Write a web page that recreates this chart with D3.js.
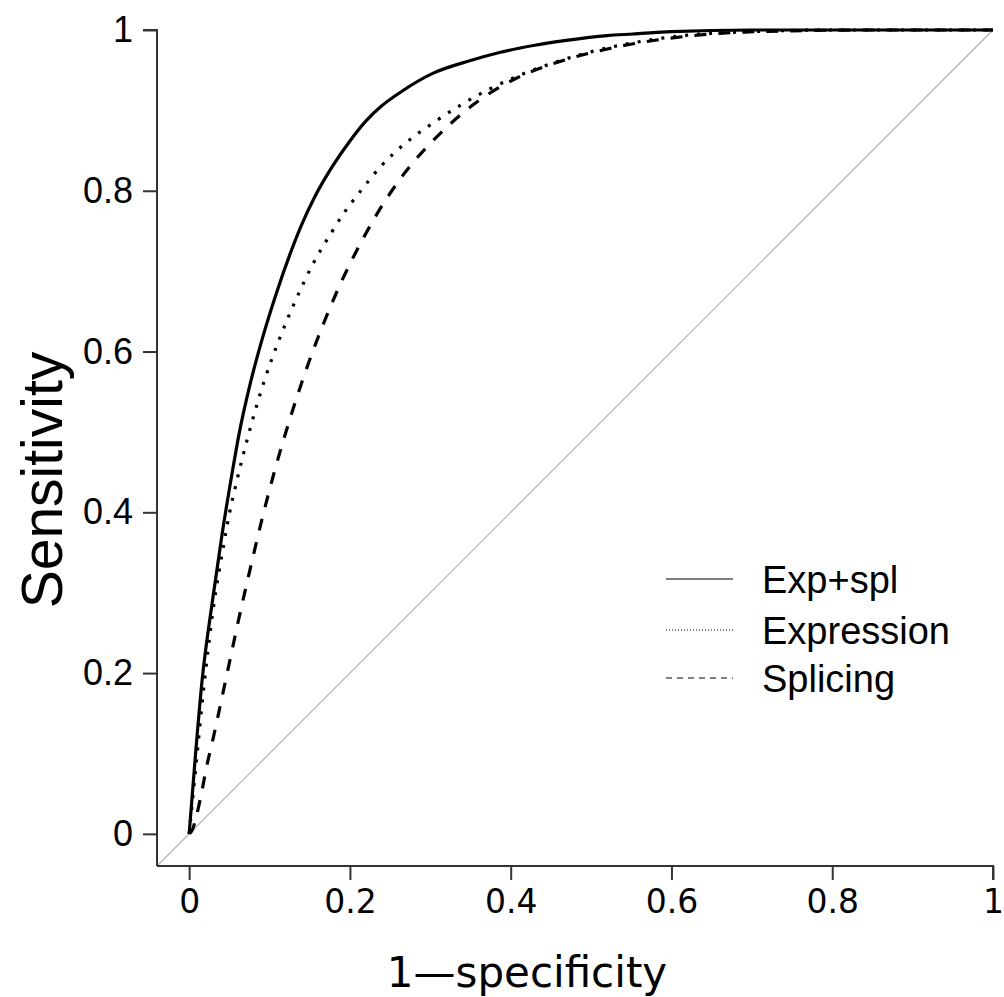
<!DOCTYPE html>
<html><head><meta charset="utf-8">
<script src="https://cdn.jsdelivr.net/npm/d3@7"></script>
<style>body{margin:0;background:#fff}</style>
</head><body>
<svg id="chart" width="1004" height="997"></svg>
<script>
const xTicks = [0, 0.2, 0.4, 0.6, 0.8, 1];
const yTicks = [0, 0.2, 0.4, 0.6, 0.8, 1];
const seriesNames = ["Exp+spl", "Expression", "Splicing"];

const expSplX = [0, 0.008, 0.016, 0.029, 0.041, 0.054, 0.062, 0.075, 0.091, 0.108, 0.125, 0.14, 0.156, 0.178, 0.2, 0.22, 0.24, 0.262, 0.303, 0.35, 0.386, 0.43, 0.469, 0.52, 0.552, 0.6, 0.7, 0.8, 0.9, 1];
const expSplY = [0, 0.1, 0.19, 0.29, 0.373, 0.452, 0.497, 0.556, 0.616, 0.671, 0.72, 0.758, 0.792, 0.83, 0.862, 0.887, 0.906, 0.922, 0.946, 0.962, 0.972, 0.981, 0.987, 0.993, 0.995, 0.998, 1, 1, 1, 1];

const expressionX = [0, 0.008, 0.018, 0.03, 0.043, 0.05, 0.06, 0.071, 0.093, 0.112, 0.133, 0.153, 0.177, 0.193, 0.212, 0.24, 0.27, 0.303, 0.34, 0.407, 0.45, 0.489, 0.552, 0.614, 0.7, 0.8, 0.9, 1];
const expressionY = [0, 0.08, 0.18, 0.28, 0.36, 0.398, 0.442, 0.486, 0.562, 0.615, 0.665, 0.707, 0.748, 0.773, 0.798, 0.832, 0.86, 0.884, 0.908, 0.942, 0.958, 0.97, 0.984, 0.993, 0.998, 1, 1, 1];

const splicingX = [0, 0.004, 0.009, 0.016, 0.022, 0.029, 0.036, 0.049, 0.061, 0.076, 0.091, 0.107, 0.125, 0.143, 0.166, 0.189, 0.215, 0.233, 0.268, 0.308, 0.352, 0.407, 0.465, 0.523, 0.585, 0.65, 0.75, 0.85, 1];
const splicingY = [0, 0.005, 0.022, 0.054, 0.085, 0.115, 0.147, 0.208, 0.264, 0.33, 0.393, 0.454, 0.515, 0.57, 0.632, 0.686, 0.738, 0.77, 0.822, 0.867, 0.906, 0.94, 0.962, 0.977, 0.988, 0.995, 0.999, 1, 1];

const series = [
  {name: seriesNames[0], xs: expSplX, ys: expSplY, dash: null, legDash: null},
  {name: seriesNames[1], xs: expressionX, ys: expressionY, dash: "3,9", legDash: "1,2"},
  {name: seriesNames[2], xs: splicingX, ys: splicingY, dash: "12,12", legDash: "6,5"}
];

const svg = d3.select("#chart");
const x = d3.scaleLinear().domain([-0.04, 1]).range([157, 993]);
const y = d3.scaleLinear().domain([-0.04, 1]).range([866, 30]);

// diagonal reference
svg.append("line")
  .attr("x1", x(-0.04)).attr("y1", y(-0.04))
  .attr("x2", x(1)).attr("y2", y(1))
  .attr("stroke", "#b0b0b0").attr("stroke-width", 1.2);

// axes
const axisColor = "#333";
const xAxis = svg.append("g").attr("transform", `translate(0,${y(-0.04)})`)
  .call(d3.axisBottom(x).tickValues(xTicks).tickSize(14).tickPadding(10).tickFormat(d3.format("~g")));
xAxis.select(".domain").attr("d", `M${x(-0.04)},0H${x(1)}V14`).attr("stroke", axisColor).attr("stroke-width", 2);
xAxis.selectAll(".tick line").attr("stroke", axisColor).attr("stroke-width", 2);
xAxis.selectAll(".tick text").attr("font-family", "DejaVu Sans").attr("font-size", 33).attr("fill", "#000");

const yAxis = svg.append("g").attr("transform", `translate(${x(-0.04)},0)`)
  .call(d3.axisLeft(y).tickValues(yTicks).tickSize(14).tickPadding(10).tickFormat(d3.format("~g")));
yAxis.select(".domain").attr("d", `M-14,${y(1)}H0V${y(-0.04)}`).attr("stroke", axisColor).attr("stroke-width", 2);
yAxis.selectAll(".tick line").attr("stroke", axisColor).attr("stroke-width", 2);
yAxis.selectAll(".tick text").attr("font-family", "Liberation Sans").attr("font-size", 36).attr("fill", "#000");

// curves
const line = d3.line().x(d => x(d[0])).y(d => y(d[1])).curve(d3.curveMonotoneX);
series.forEach(s => {
  const pts = s.xs.map((v, i) => [v, s.ys[i]]);
  svg.append("path").datum(pts)
    .attr("d", line)
    .attr("fill", "none").attr("stroke", "#000").attr("stroke-width", 3.2)
    .attr("stroke-dasharray", s.dash);
});

// legend
const legY = [579, 630, 678];
series.forEach((s, i) => {
  svg.append("line").attr("x1", 666).attr("x2", 733).attr("y1", legY[i]).attr("y2", legY[i])
    .attr("stroke", "#000").attr("stroke-width", 1.2).attr("stroke-dasharray", s.legDash);
  svg.append("text").attr("x", 762).attr("y", legY[i]).attr("dy", "0.36em")
    .attr("font-family", "Liberation Sans").attr("font-size", 38).attr("fill", "#000")
    .text(s.name);
});

// axis titles
svg.append("text").attr("x", 527).attr("y", 987).attr("text-anchor", "middle")
  .attr("font-family", "DejaVu Sans").attr("font-size", 42).attr("fill", "#000")
  .text("1—specificity");
svg.append("text").attr("transform", `translate(62,480) rotate(-90)`).attr("text-anchor", "middle")
  .attr("font-family", "Liberation Sans").attr("font-size", 57).attr("fill", "#000")
  .text("Sensitivity");
</script>
</body></html>
